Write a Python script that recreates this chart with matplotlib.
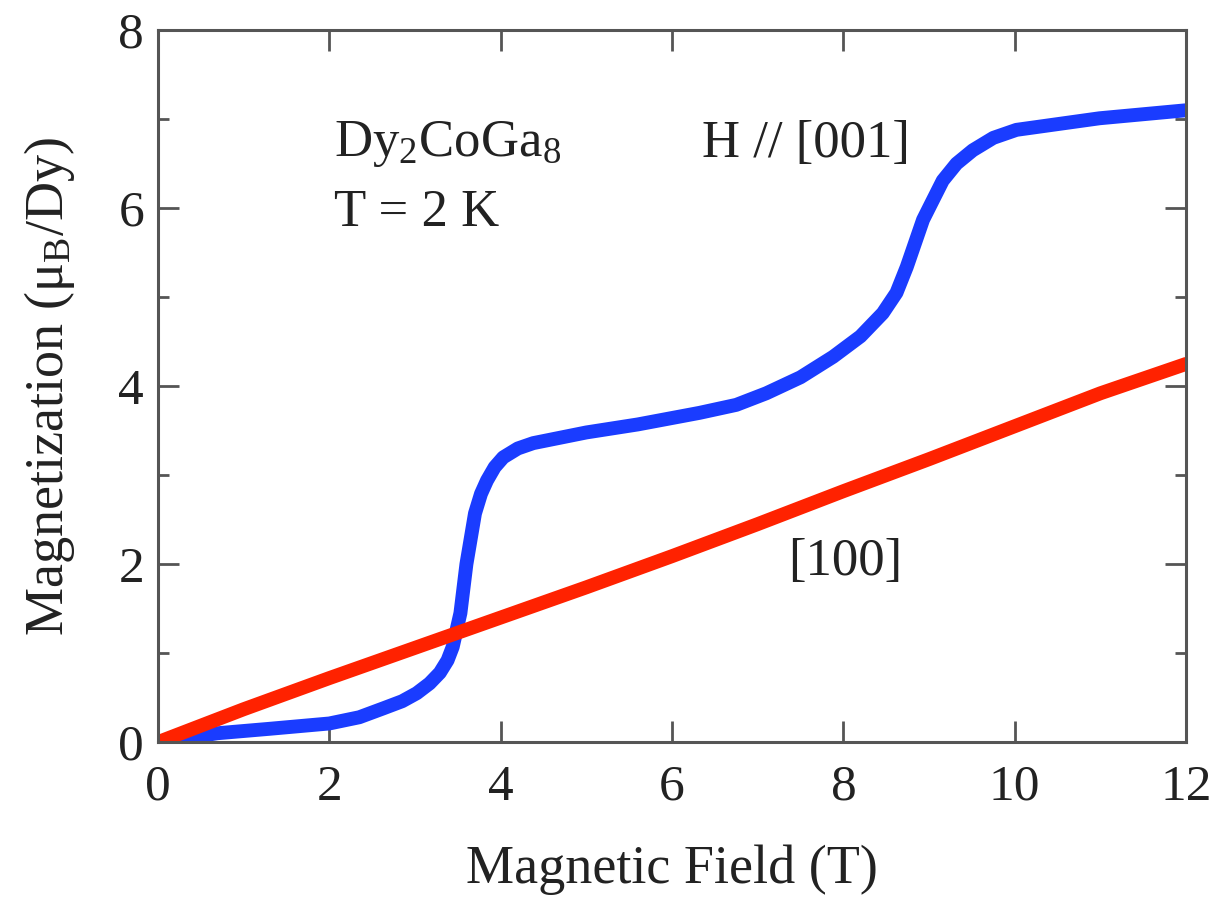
import matplotlib
matplotlib.use("Agg")
import matplotlib.pyplot as plt
from matplotlib.ticker import MultipleLocator

plt.rcParams['font.family'] = ['Liberation Serif', 'DejaVu Serif']
plt.rcParams['mathtext.fontset'] = 'custom'
plt.rcParams['mathtext.rm'] = 'Liberation Serif'
plt.rcParams['mathtext.it'] = 'Liberation Serif:italic'

# H // [001]
field_001 = [0, 0.3, 0.69, 1.3, 2.0, 2.35, 2.63, 2.85, 3.02, 3.17, 3.29, 3.38, 3.44,
             3.53, 3.6, 3.7, 3.77, 3.84, 3.93, 4.03, 4.2, 4.38, 5.0, 5.6, 6.32, 6.75,
             7.1, 7.5, 7.88, 8.2, 8.46, 8.62, 8.74, 8.93, 9.05, 9.16, 9.32, 9.51,
             9.75, 10.02, 10.99, 12.0]
mag_001 = [0, 0.04, 0.10, 0.15, 0.21, 0.28, 0.38, 0.46, 0.55, 0.66, 0.78, 0.92, 1.07,
           1.45, 2.0, 2.57, 2.79, 2.94, 3.09, 3.2, 3.3, 3.36, 3.48, 3.57, 3.70, 3.79,
           3.92, 4.1, 4.33, 4.56, 4.82, 5.05, 5.34, 5.87, 6.1, 6.31, 6.5, 6.65,
           6.79, 6.88, 7.01, 7.1]

# H // [100]
field_100 = [0, 1, 2, 3, 4, 5, 6, 7, 8, 9, 10, 11, 12]
mag_100 = [0, 0.37, 0.72, 1.06, 1.4, 1.74, 2.09, 2.45, 2.82, 3.18, 3.55, 3.92, 4.25]

fig = plt.figure(figsize=(12.19, 9.14), dpi=100)
ax = fig.add_axes([0.1296, 0.188, 0.8434, 0.779])

ax.plot(field_001, mag_001, color='#1a3cff', lw=10, solid_capstyle='round',
        solid_joinstyle='round')
ax.plot(field_100, mag_100, color='#ff2200', lw=10, solid_capstyle='round',
        solid_joinstyle='round')

ax.set_xlim(0, 12)
ax.set_ylim(0, 8)
ax.xaxis.set_major_locator(MultipleLocator(2))
ax.yaxis.set_major_locator(MultipleLocator(2))
ax.yaxis.set_minor_locator(MultipleLocator(1))

for s in ax.spines.values():
    s.set_color('#555555')
    s.set_linewidth(2.2)
ax.tick_params(which='both', direction='in', top=True, right=True,
               color='#555555', width=2, labelsize=37, colors='#555555',
               labelcolor='#222222')
ax.tick_params(axis='x', which='major', length=15, pad=16)
ax.tick_params(axis='y', which='major', length=15, pad=10)
ax.tick_params(which='minor', length=8)

ax.set_xlabel('Magnetic Field (T)', fontsize=39, color='#222222', labelpad=24)
ax.set_ylabel(r'Magnetization (μ$_\mathrm{B}$/Dy)', fontsize=39, color='#222222',
              labelpad=30)

ax.text(2.05, 6.72, r'Dy$_2$CoGa$_8$', fontsize=38, color='#222222', va='center')
ax.text(2.05, 5.95, 'T = 2 K', fontsize=38, color='#222222', va='center')
ax.text(6.35, 6.72, 'H // [001]', fontsize=38, color='#222222', va='center')
ax.text(7.35, 2.02, '[100]', fontsize=38, color='#222222', va='center')

fig.savefig('out.png', dpi=100)
